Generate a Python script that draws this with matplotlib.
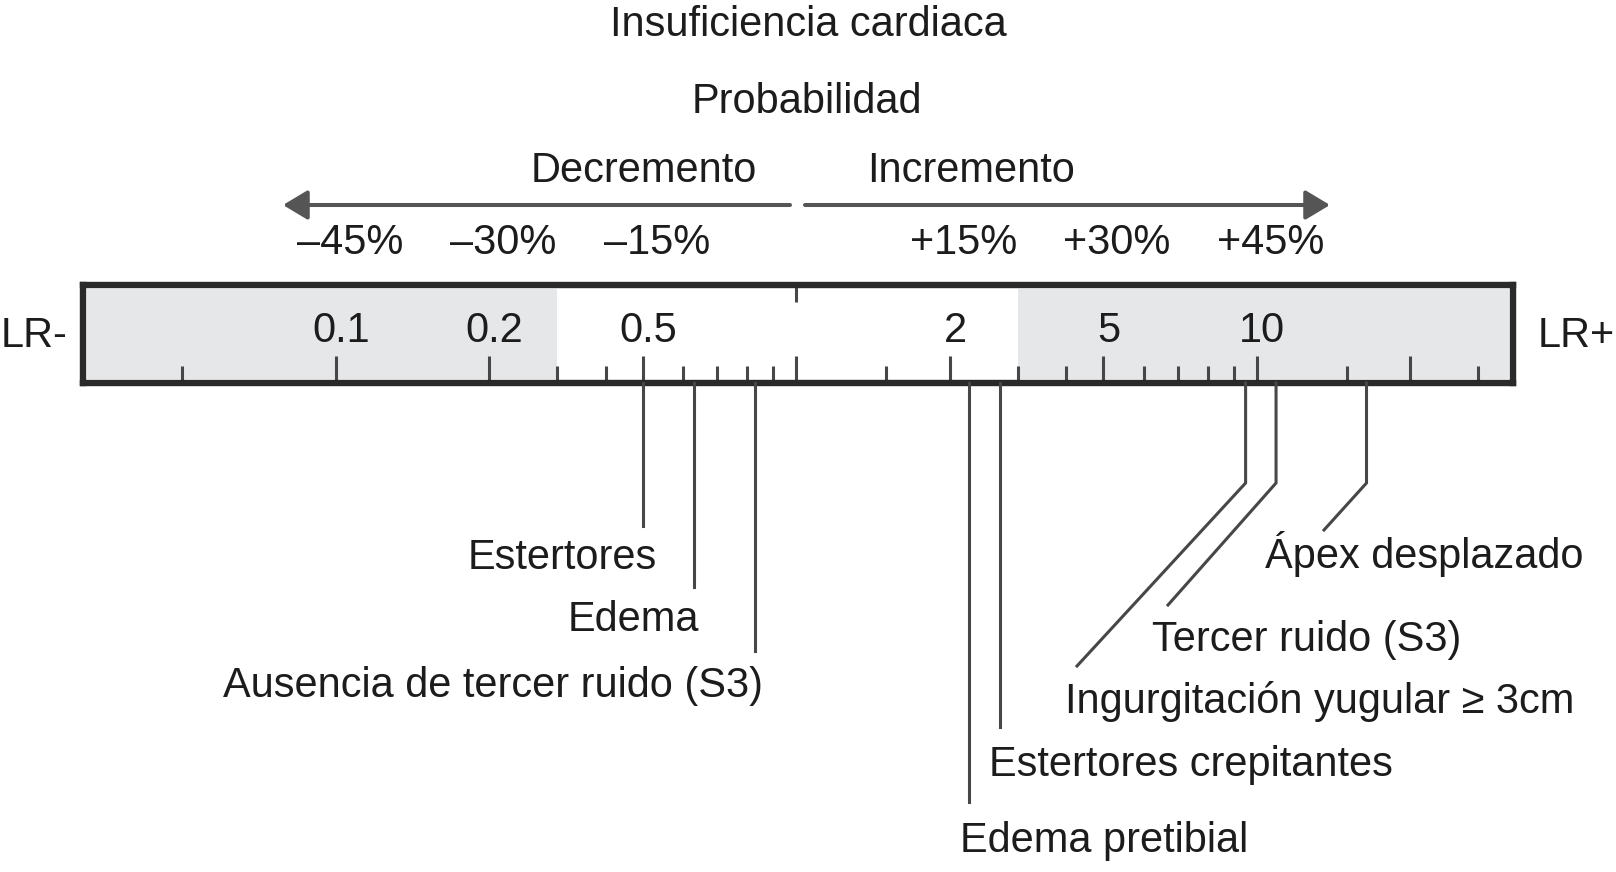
import numpy as np
import matplotlib
matplotlib.use("Agg")
import matplotlib.pyplot as plt

plt.rcParams["font.family"] = ["Liberation Sans", "DejaVu Sans"]

W, H = 1616, 872
FS = 29.9
INK = "#1c1c1c"
LINE = "#474747"

# likelihood ratios that sit at equal steps along the nomogram
lr_anchors = [0.02, 0.05, 0.1, 0.2, 0.5, 1, 2, 5, 10, 20, 50]
major_ticks = [0.1, 0.2, 0.5, 1, 2, 5, 10, 20]
major_labels = ["0.1", "0.2", "0.5", "", "2", "5", "10", ""]
minor_ticks = [0.05, 0.3, 0.4, 0.6, 0.7, 0.8, 0.9, 1.5, 3, 4, 6, 7, 8, 9, 15, 30]
pct_lr = [0.1, 0.2, 0.5, 2, 5, 10]
pct_labels = ["–45%", "–30%", "–15%", "+15%", "+30%", "+45%"]
shade_lo, shade_hi = 0.3, 3

neg_names = ["Estertores", "Edema", "Ausencia de tercer ruido (S3)"]
neg_lr = [0.5, 0.63, 0.83]
pos_names = ["Edema pretibial", "Estertores crepitantes",
             "Ingurgitación yugular ≥ 3cm", "Tercer ruido (S3)", "Ápex desplazado"]
pos_lr = [2.24, 2.69, 9.5, 10.9, 16.4]

log_a = np.log10(lr_anchors)
idx = np.arange(len(lr_anchors)) - 2.0


def fwd(v):
    return np.interp(np.log10(np.clip(v, 1e-9, None)), log_a, idx)


def inv(i):
    return 10 ** np.interp(i, idx, log_a)


fig = plt.figure(figsize=(W / 100, H / 100), dpi=100)

# the ruler box (pixel extent of the border centre lines)
bx0, bx1, by0, by1 = 83, 1513, 284.5, 383
ax = fig.add_axes([bx0 / W, 1 - by1 / H, (bx1 - bx0) / W, (by1 - by0) / H])
ax.set_xscale("function", functions=(fwd, inv))
ax.set_xlim(inv(-1.648), inv(7.668))
ax.set_ylim(0, 1)
ax.set_yticks([])
for s in ax.spines.values():
    s.set_linewidth(4.6)
    s.set_color("#2a2a2a")

ax.axvspan(inv(-1.62), shade_lo, ymin=0.04, ymax=0.955, color="#e6e7e9", lw=0)
ax.axvspan(shade_hi, inv(7.64), ymin=0.04, ymax=0.955, color="#e6e7e9", lw=0)

ax.set_xticks(major_ticks)
ax.set_xticks(minor_ticks, minor=True)
ax.tick_params(axis="x", which="major", direction="in", length=19.5, width=2.2,
               color=LINE, labelbottom=False)
ax.tick_params(axis="x", which="minor", direction="in", length=12, width=2.2,
               color=LINE, labelbottom=False)
ax.xaxis.set_minor_formatter(plt.NullFormatter())
# small tick hanging from the top at LR = 1
ax.plot([1, 1], [1, 1 - 17.5 / (by1 - by0)], color=LINE, lw=2.2, solid_capstyle="butt")


def px(lr):
    return ax.transData.transform((lr, 0.5))[0]


ov = fig.add_axes([0, 0, 1, 1])
ov.set_xlim(0, W)
ov.set_ylim(H, 0)
ov.axis("off")
ov.patch.set_alpha(0)


def txt(x, y, s, ha="center"):
    ov.text(x, y, s, ha=ha, va="baseline", fontsize=FS, color=INK)


txt(808, 36, "Insuficiencia cardiaca")
txt(807, 113, "Probabilidad")
txt(644, 182, "Decremento")
txt(971, 182, "Incremento")

arrow = dict(arrowstyle="-|>,head_length=0.75,head_width=0.45", color="#555555",
             lw=2.9, mutation_scale=20, shrinkA=0, shrinkB=0)
ov.annotate("", xy=(283, 205), xytext=(790, 205), arrowprops=arrow)
ov.annotate("", xy=(1330, 205), xytext=(805, 205), arrowprops=arrow)

for lr, lab in zip(pct_lr, pct_labels):
    txt(px(lr) + 67, 254, lab, ha="right")

for lr, lab in zip(major_ticks, major_labels):
    if lab:
        txt(px(lr) + 5, 342, lab)

txt(34, 347, "LR-")
txt(1576, 347, "LR+")

# leader lines for findings that lower the probability
neg_end = [526, 587, 651]
neg_text = [(657, 569), (699, 631), (763, 697)]
for lr, name, ye, (tx, ty) in zip(neg_lr, neg_names, neg_end, neg_text):
    x = px(lr)
    ov.plot([x, x], [by1, ye], color=LINE, lw=2.2)
    txt(tx, ty, name, ha="right")

# leader lines for findings that raise the probability
pos_path = [[(802,)], [(727,)], [(483,), (1077, 666)], [(483,), (1168, 605)],
            [(483,), (1324, 530)]]
pos_text = [(960, 852), (989, 776), (1065, 713), (1152, 651), (1265, 568)]
for lr, name, path, (tx, ty) in zip(pos_lr, pos_names, pos_path, pos_text):
    x = px(lr)
    xs, ys = [x, x], [by1, path[0][0]]
    if len(path) > 1:
        xs.append(path[1][0])
        ys.append(path[1][1])
    ov.plot(xs, ys, color=LINE, lw=2.2, solid_joinstyle="miter")
    txt(tx, ty, name, ha="left")

fig.savefig("out.png", dpi=100)
